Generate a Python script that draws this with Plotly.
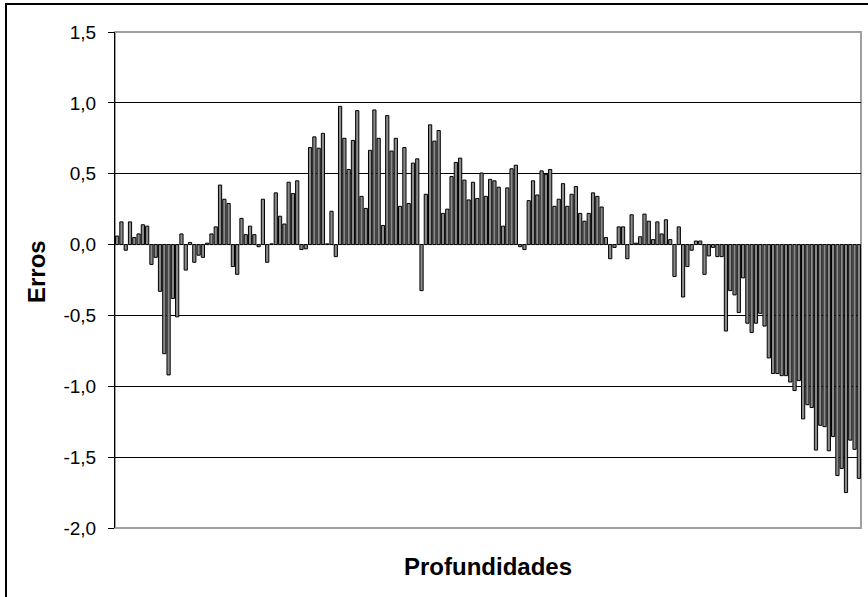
import plotly.graph_objects as go

# Error values per depth sample
erros = [
    0.06, 0.16, -0.04, 0.16, 0.05, 0.075, 0.14, 0.13, -0.14, -0.09,
    -0.33, -0.77, -0.92, -0.38, -0.51, 0.075, -0.18, 0.015, -0.125, -0.075,
    -0.09, 0.01, 0.075, 0.125, 0.42, 0.32, 0.29, -0.155, -0.21, 0.185,
    0.07, 0.13, 0.07, -0.015, 0.32, -0.125, 0.005, 0.365, 0.20, 0.145,
    0.44, 0.36, 0.45, -0.035, -0.03, 0.685, 0.76, 0.68, 0.785, 0.005,
    0.235, -0.085, 0.975, 0.75, 0.53, 0.735, 0.945, 0.34, 0.255, 0.665,
    0.95, 0.75, 0.135, 0.91, 0.66, 0.75, 0.27, 0.685, 0.29, 0.575,
    0.605, -0.325, 0.355, 0.845, 0.73, 0.805, 0.22, 0.25, 0.48, 0.58,
    0.61, 0.455, 0.315, 0.44, 0.325, 0.505, 0.34, 0.46, 0.45, 0.405,
    0.13, 0.40, 0.535, 0.56, -0.015, -0.035, 0.31, 0.45, 0.35, 0.52,
    0.495, 0.53, 0.27, 0.32, 0.43, 0.27, 0.355, 0.41, 0.22, 0.165,
    0.22, 0.365, 0.34, 0.265, 0.05, -0.10, -0.02, 0.125, 0.125, -0.10,
    0.21, 0.01, 0.055, 0.215, 0.165, 0.035, 0.16, 0.075, 0.175, 0.035,
    -0.225, 0.125, -0.37, -0.155, -0.04, 0.025, 0.025, -0.21, -0.08, -0.02,
    -0.085, -0.085, -0.61, -0.325, -0.355, -0.48, -0.235, -0.555, -0.62, -0.555,
    -0.485, -0.575, -0.80, -0.91, -0.91, -0.925, -0.925, -0.97, -1.03, -0.96,
    -1.23, -1.13, -1.15, -1.45, -1.275, -1.285, -1.455, -1.355, -1.63, -1.58,
    -1.75, -1.38, -1.445, -1.65,
]
profundidades = [str(i + 1) for i in range(len(erros))]

y_tickvals = [1.5, 1.0, 0.5, 0.0, -0.5, -1.0, -1.5, -2.0]
y_ticktext = ["1,5", "1,0", "0,5", "0,0", "-0,5", "-1,0", "-1,5", "-2,0"]

fig = go.Figure()
fig.add_trace(go.Bar(
    x=profundidades, y=erros,
    marker=dict(color="#8a8a8a", line=dict(color="black", width=1)),
))

L, R, T, B = 115, 7, 32, 69
W, H = 868, 597
pw, ph = W - L - R, H - T - B

fig.update_layout(
    width=W, height=H,
    margin=dict(l=L, r=R, t=T, b=B),
    paper_bgcolor="white", plot_bgcolor="white",
    bargap=0.25, showlegend=False,
    font=dict(family="Liberation Sans, Arial, sans-serif", color="black"),
    xaxis=dict(
        type="category", showticklabels=False, ticks="", showgrid=False,
        showline=False, zeroline=False,
        title=dict(text="<b>Profundidades</b>", font=dict(size=24), standoff=30),
    ),
    yaxis=dict(
        range=[-2.0, 1.5], tickvals=y_tickvals, ticktext=y_ticktext,
        tickfont=dict(size=19), ticks="outside", ticklen=6, tickcolor="black",
        ticklabelstandoff=8,
        showline=True, linecolor="black", linewidth=1,
        showgrid=True, gridcolor="black", gridwidth=1,
        zeroline=True, zerolinecolor="#a0a0a0", zerolinewidth=1,
    ),
    annotations=[
        dict(text="<b>Erros</b>", xref="paper", yref="paper",
             x=(36 - L) / pw, y=(ph + T - 272) / ph,
             xanchor="center", yanchor="middle", textangle=-90,
             showarrow=False, font=dict(size=24)),
    ],
    shapes=[
        # plot area border (gray)
        dict(type="rect", xref="paper", yref="paper", x0=0, x1=1, y0=0, y1=1,
             line=dict(color="#a0a0a0", width=2), layer="below"),
        # outer chart border
        dict(type="rect", xref="paper", yref="paper",
             x0=(6 - L) / pw, x1=(W + 10 - L) / pw,
             y0=(ph + T - (H + 10)) / ph, y1=(ph + T - 4) / ph,
             line=dict(color="black", width=2)),
    ],
)

fig.write_html("out.html")
